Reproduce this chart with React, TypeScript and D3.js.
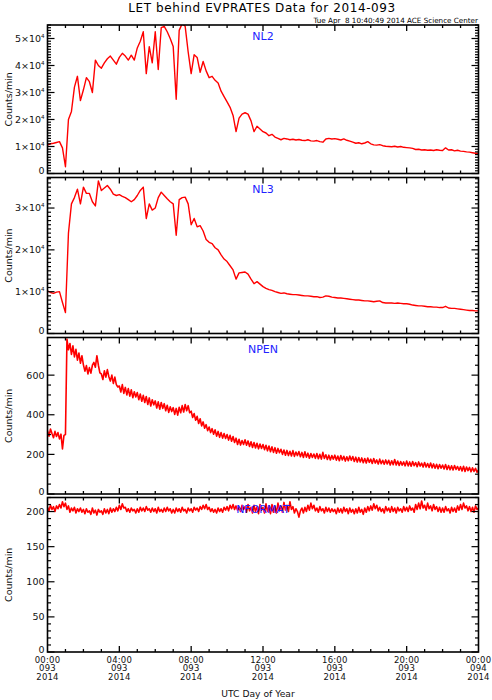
import { useRef, useEffect } from 'react';
import * as d3 from 'd3';

const W = 492;
const H = 700;

// NL2, counts/min, one value every 10 minutes (00:00 .. 24:00)
const nl2 = [
  10500, 11000, 11200, 11500, 11800, 9500,
  2500, 20000, 23000, 32000, 36000, 27000,
  31000, 35500, 34000, 30000, 42000, 40000,
  39000, 41000, 42500, 43500, 42000, 40500,
  43000, 44500, 43500, 42000, 43800, 42000,
  46500, 49000, 52500, 37000, 47000, 41000,
  52500, 38500, 54000, 54500, 52500, 50000,
  47000, 27500, 53000, 55500, 54500, 45000,
  37000, 44000, 43000, 37500, 41500, 38000,
  35500, 36000, 34500, 33500, 30500, 28500,
  26500, 24500, 21500, 15500, 20500, 22000,
  22500, 22000, 19500, 15500, 17500, 16500,
  15500, 15000, 14000, 14500, 13500, 13000,
  12500, 13000, 12800, 12500, 12700, 12400,
  12600, 12300, 12200, 12500, 12100, 12000,
  12200, 11800, 11600, 12800, 13000, 12800,
  12900, 12700, 12400, 12800, 12300, 12000,
  11600, 11200, 11400, 11000, 11300, 11800,
  11000, 10600, 10500, 10700, 10300, 10100,
  10000, 9900, 10100, 9800, 10000, 9700,
  9600, 9500, 9300, 8900, 9000, 8700,
  8800, 8600, 8700, 8500, 8800, 8600,
  8500, 9500, 8700, 8800, 8400, 8600,
  8300, 8200, 8000, 7900, 7700, 7500,
  7500,
];

// NL3, counts/min, every 10 minutes
const nl3 = [
  10200, 9800, 9600, 9900, 10000, 7400,
  5000, 24000, 31000, 32500, 34500, 31000,
  35000, 33500, 33500, 31500, 30500, 36500,
  34200, 34800, 35400, 34500, 33300, 33000,
  33200, 32800, 32500, 32000, 31500, 32000,
  33000, 34200, 35000, 27500, 31000, 29500,
  30000, 32500, 33800, 33000, 32200, 31500,
  31000, 23500, 32000, 32500, 32600, 31000,
  26000, 27500, 25500, 25800, 24500, 22500,
  21800, 21500, 20500, 20000, 18800, 17800,
  17200, 16200, 15200, 13000, 14500, 14600,
  14700, 14200, 13000, 11900, 12400, 11800,
  11200, 10800, 10500, 10300, 10000, 9800,
  9600, 9700, 9500, 9400, 9300, 9300,
  9200, 9100, 9000, 9000, 8900, 8800,
  8800, 8600, 8700, 9000, 8900, 8700,
  8600, 8500, 8500, 8400, 8300, 8200,
  8100, 8000, 8000, 7900, 7800, 7800,
  7700, 7600, 7700, 7800, 7400, 7300,
  7300, 7300, 7200, 7300, 7200, 7100,
  7100, 7000, 6800, 6700, 6600, 6600,
  6500, 6400, 6400, 6300, 6300, 6200,
  6200, 6500, 6100, 6000, 6000, 5900,
  5800, 5700, 5600, 5500, 5500, 5400,
  5400,
];

// NPEN, counts/min, every 5 minutes
const npen = [
  320, 292, 328, 305, 284, 316, 290, 310, 278, 302, 228, 296,
  300, 782, 728, 760, 705, 748, 692, 730, 676, 712, 660, 698,
  652, 620, 648, 606, 638, 610, 650, 664, 640, 698, 650, 612,
  606, 578, 622, 590, 628, 592, 570, 600, 558, 590, 552, 540,
  545, 515, 552, 508, 538, 500, 532, 494, 526, 486, 516, 490,
  512, 476, 505, 468, 498, 462, 492, 452, 485, 444, 476, 450,
  470, 434, 465, 428, 462, 432, 456, 420, 448, 412, 440, 416,
  436, 402, 432, 398, 438, 410, 446, 414, 452, 420, 446, 410,
  418, 386, 406, 372, 392, 356, 380, 344, 364, 332, 350, 320,
  338, 310, 330, 302, 324, 292, 316, 286, 310, 282, 305, 280,
  300, 272, 296, 266, 290, 260, 282, 250, 276, 247, 270, 250,
  274, 246, 268, 240, 264, 235, 260, 232, 256, 228, 252, 230,
  250, 224, 246, 218, 242, 213, 238, 210, 234, 206, 230, 208,
  226, 200, 222, 196, 220, 194, 216, 192, 219, 190, 212, 194,
  214, 188, 210, 184, 213, 186, 206, 181, 204, 184, 202, 180,
  204, 178, 200, 176, 210, 179, 198, 174, 196, 172, 194, 176,
  196, 171, 192, 168, 194, 172, 190, 166, 188, 168, 192, 170,
  189, 164, 186, 161, 184, 162, 182, 158, 179, 156, 182, 160,
  176, 154, 179, 156, 172, 151, 176, 153, 170, 150, 172, 152,
  170, 146, 168, 148, 174, 146, 166, 144, 164, 146, 162, 142,
  166, 142, 162, 140, 164, 143, 159, 138, 162, 141, 156, 136,
  159, 136, 154, 134, 156, 132, 152, 130, 150, 128, 149, 130,
  146, 126, 149, 124, 144, 122, 142, 121, 144, 124, 139, 120,
  138, 116, 140, 114, 136, 118, 134, 112, 132, 114, 130, 110,
  122,
];

// NFORMAT, counts/min, every 5 minutes
const nformat = [
  206, 201, 209, 203, 207, 200, 208, 204, 210, 205, 214, 207,
  212, 203, 208, 199, 205, 201, 206, 198, 204, 200, 205, 199,
  203, 197, 204, 199, 201, 196, 205, 198, 202, 195, 203, 199,
  201, 196, 204, 198, 203, 197, 205, 199, 204, 200, 206, 201,
  209, 203, 211, 205, 206, 200, 204, 199, 205, 201, 203, 198,
  204, 199, 206, 201, 205, 200, 207, 202, 204, 199, 205, 200,
  204, 198, 206, 200, 203, 199, 205, 200, 206, 201, 204, 198,
  203, 198, 205, 200, 204, 199, 206, 201, 203, 198, 205, 201,
  204, 199, 206, 202, 205, 200, 207, 203, 209, 204, 210, 203,
  206, 200, 204, 199, 203, 198, 205, 200, 204, 199, 206, 202,
  207, 201, 209, 204, 210, 203, 208, 202, 206, 200, 209, 203,
  207, 199, 210, 201, 206, 198, 209, 200, 207, 197, 210, 202,
  206, 198, 211, 200, 208, 197, 210, 199, 207, 198, 212, 201,
  208, 199, 213, 202, 209, 200, 214, 203, 207, 198, 204, 200,
  192, 201, 205, 198, 206, 200, 209, 202, 212, 204, 209, 201,
  205, 199, 207, 201, 204, 198, 206, 200, 205, 199, 204, 200,
  203, 197, 205, 199, 204, 198, 206, 200, 204, 197, 205, 199,
  203, 197, 204, 198, 206, 199, 203, 196, 205, 199, 207, 201,
  208, 202, 211, 204, 209, 201, 206, 200, 204, 198, 207, 201,
  205, 199, 207, 200, 205, 198, 206, 201, 204, 199, 207, 201,
  206, 200, 208, 202, 205, 199, 210, 203, 212, 204, 215, 205,
  209, 202, 212, 204, 208, 201, 210, 203, 207, 200, 206, 199,
  205, 199, 207, 201, 204, 198, 206, 200, 205, 199, 208, 202,
  210, 203, 212, 205, 208, 201, 207, 200, 206, 199, 208, 203,
  205,
];

const xTickTimes = ['00:00', '04:00', '08:00', '12:00', '16:00', '20:00', '00:00'];
const xTickDays = ['093', '093', '093', '093', '093', '093', '094'];
const xTickYears = ['2014', '2014', '2014', '2014', '2014', '2014', '2014'];

const FONT = 'DejaVu Sans, sans-serif';

export default function App() {
  const svgRef = useRef<SVGSVGElement>(null);

  useEffect(() => {
    if (!svgRef.current) return;
    const svg = d3.select(svgRef.current);
    svg.selectAll('*').remove();

    const left = 47.5;
    const right = 478.5;
    const x = d3.scaleLinear().domain([0, 1440]).range([left, right]);

    const panels = [
      { name: 'NL2', values: nl2, step: 10, top: 25, bottom: 173.5, yMax: 55000, major: 10000, minor: 1000, sci: true, sw: 1.4 },
      { name: 'NL3', values: nl3, step: 10, top: 177.5, bottom: 333.5, yMax: 37300, major: 10000, minor: 1000, sci: true, sw: 1.4 },
      { name: 'NPEN', values: npen, step: 5, top: 337.5, bottom: 494, yMax: 790, major: 200, minor: 50, sci: false, sw: 1.6 },
      { name: 'NFORMAT', values: nformat, step: 5, top: 497.5, bottom: 652, yMax: 220, major: 50, minor: 10, sci: false, sw: 1.6 },
    ];

    svg.append('rect').attr('width', W).attr('height', H).attr('fill', '#fff');

    svg.append('text')
      .attr('x', 262).attr('y', 12)
      .attr('text-anchor', 'middle')
      .attr('font-family', FONT).attr('font-size', 12)
      .attr('letter-spacing', 0.6)
      .text('LET behind EVPRATES Data for 2014-093');

    svg.append('text')
      .attr('x', 478).attr('y', 22.5)
      .attr('text-anchor', 'end')
      .attr('font-family', FONT).attr('font-size', 7.2)
      .style('white-space', 'pre')
      .text('Tue Apr  8 10:40:49 2014 ACE Science Center');

    panels.forEach((p, pi) => {
      const y = d3.scaleLinear().domain([0, p.yMax]).range([p.bottom, p.top]);
      const g = svg.append('g');
      const clipId = `clip-${pi}`;
      g.append('clipPath').attr('id', clipId)
        .append('rect')
        .attr('x', left).attr('y', p.top)
        .attr('width', right - left).attr('height', p.bottom - p.top);

      const line = d3.line<number>()
        .x((_, i) => x(i * p.step))
        .y(d => y(d));

      g.append('path')
        .datum(p.values)
        .attr('clip-path', `url(#${clipId})`)
        .attr('fill', 'none')
        .attr('stroke', '#ff0000')
        .attr('stroke-width', p.sw)
        .attr('stroke-linejoin', 'round')
        .attr('d', line);

      // frame
      g.append('rect')
        .attr('x', left).attr('y', p.top)
        .attr('width', right - left).attr('height', p.bottom - p.top)
        .attr('fill', 'none').attr('stroke', '#000').attr('stroke-width', 1.6);

      // x ticks, every hour, major every 4 hours
      const xt = d3.range(60, 1440, 60);
      xt.forEach(m => {
        const len = m % 240 === 0 ? 6 : 3;
        const xx = x(m);
        g.append('line').attr('x1', xx).attr('x2', xx)
          .attr('y1', p.bottom).attr('y2', p.bottom - len)
          .attr('stroke', '#000').attr('stroke-width', 1.3);
        g.append('line').attr('x1', xx).attr('x2', xx)
          .attr('y1', p.top).attr('y2', p.top + len)
          .attr('stroke', '#000').attr('stroke-width', 1.3);
      });

      // y ticks
      const yt = d3.range(0, p.yMax + 0.001, p.minor);
      yt.forEach(v => {
        const isMajor = Math.abs(v / p.major - Math.round(v / p.major)) < 1e-6;
        const len = isMajor ? 7 : 3.5;
        const yy = y(v);
        g.append('line').attr('x1', left).attr('x2', left + len)
          .attr('y1', yy).attr('y2', yy)
          .attr('stroke', '#000').attr('stroke-width', 1.2);
        g.append('line').attr('x1', right).attr('x2', right - len)
          .attr('y1', yy).attr('y2', yy)
          .attr('stroke', '#000').attr('stroke-width', 1.2);
      });

      // y tick labels
      const majors = d3.range(0, p.yMax + 0.001, p.major);
      majors.forEach(v => {
        const base = v === 0 ? y(v) + 0.6 : y(v) + 3.4;
        const t = g.append('text')
          .attr('x', left - 3).attr('y', base)
          .attr('text-anchor', 'end')
          .attr('font-family', FONT).attr('font-size', 9.5)
          .attr('fill', '#111');
        if (p.sci && v !== 0) {
          t.append('tspan').text(`${Math.round(v / 10000)}×10`);
          t.append('tspan').attr('font-size', 5.5).attr('dy', -4).text('4');
        } else {
          t.text(String(v));
        }
      });

      // axis title
      const cy = (p.top + p.bottom) / 2;
      g.append('text')
        .attr('transform', `translate(12,${cy}) rotate(-90)`)
        .attr('text-anchor', 'middle')
        .attr('font-family', FONT).attr('font-size', 9.5)
        .attr('fill', '#111')
        .text('Counts/min');

      // panel name
      g.append('text')
        .attr('x', (left + right) / 2).attr('y', p.top + 15)
        .attr('text-anchor', 'middle')
        .attr('font-family', FONT).attr('font-size', 11)
        .attr('fill', '#2222ff')
        .text(p.name);
    });

    // bottom time labels, three stacked lines per tick
    const last = panels[panels.length - 1];
    const rows = [xTickTimes, xTickDays, xTickYears];
    rows.forEach((row, ri) => {
      row.forEach((lab, i) => {
        svg.append('text')
          .attr('x', x(i * 240))
          .attr('y', last.bottom + 10.5 + ri * 8.5)
          .attr('text-anchor', 'middle')
          .attr('font-family', FONT).attr('font-size', 8.5)
          .attr('letter-spacing', 0.2)
          .attr('fill', '#111')
          .text(lab);
      });
    });

    svg.append('text')
      .attr('x', 258).attr('y', 696.5)
      .attr('text-anchor', 'middle')
      .attr('font-family', FONT).attr('font-size', 9.2)
      .attr('fill', '#111')
      .text('UTC Day of Year');
  }, []);

  return (
    <svg
      ref={svgRef}
      width={W}
      height={H}
      style={{ position: 'absolute', left: 0, top: 0 }}
    />
  );
}
